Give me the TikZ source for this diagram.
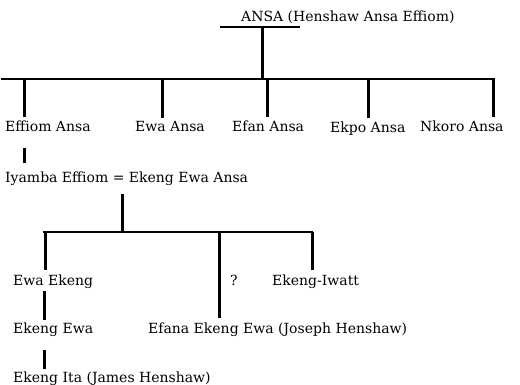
\documentclass[tikz,border=0pt]{standalone}
\usepackage{fontspec}
\setmainfont{DejaVu Serif}
\usetikzlibrary{calc}

\tikzset{
  person/.style={anchor=base west, inner sep=0pt, font=\fontsize{14}{16}\selectfont},
  bar/.style={line width=2.6pt},
  drop/.style={line width=3pt, shorten >=4pt},
}

\begin{document}
\begin{tikzpicture}[x=1pt,y=-1pt]
        \useasboundingbox (0,0) rectangle (520,385);

        % Ansa and his sons
        \node[person] (ansa) at (241,22) {ANSA (Henshaw Ansa Effiom)};
        \coordinate (T1) at (220,27);
        \coordinate (T2) at (300,27);
        \coordinate (T3) at (262,27);
        \coordinate (L1) at (1,79);
        \coordinate (L2) at (495,79);

        \draw[bar] (T1) -- (T2);
        \draw[bar] (L1) -- (L2);
        \draw[drop, shorten >=0pt] (T3) -- (T3 |- L1);

        \node[person] (effiom) at (5,132) {Effiom Ansa};
        \node[person] (ewa) at (135,132) {Ewa Ansa};
        \node[person] (efan) at (232,132) {Efan Ansa};
        \node[person] (ekpo) at (330,133) {Ekpo Ansa};
        \node[person] (nkoro) at (420,132) {Nkoro Ansa};

        \foreach \x/\n in {24/effiom, 162/ewa, 267/efan, 368/ekpo, 493/nkoro}{
            \coordinate (d\n) at (\x,79);
            \draw[drop] (d\n) -- (d\n |- \n.north);
        }

        % Iyamba Effiom and his children
        \node[person] (iyamba) at (5,183) {Iyamba Effiom = Ekeng Ewa Ansa};
        \coordinate (K1) at (24,0);
        \draw[drop, shorten <=16pt, shorten >=9pt] (effiom.south -| K1) -- (K1 |- iyamba.north);

        \coordinate (M) at (122,194);
        \coordinate (C1) at (43,232);
        \coordinate (C2) at (313,232);
        \draw[drop, shorten >=0pt] (M) -- (M |- C1);
        \draw[bar] (C1) -- (C2);

        \node[person] (ewaekeng) at (13,285) {Ewa Ekeng};
        \node[person] (query) at (230,285) {?};
        \node[person] (iwatt) at (272,285) {Ekeng-Iwatt};
        \node[person] (efana) at (148,333) {Efana Ekeng Ewa (Joseph Henshaw)};

        \foreach \x/\n in {45/ewaekeng, 219/efana, 312/iwatt}{
            \coordinate (c\n) at (\x,232);
            \draw[drop] (c\n) -- (c\n |- \n.north);
        }

        % line of Ewa Ekeng
        \node[person] (ekengewa) at (13,333) {Ekeng Ewa};
        \node[person] (ekengita) at (13,382) {Ekeng Ita (James Henshaw)};
        \coordinate (K2) at (44,0);
        \draw[drop, shorten <=3pt, shorten >=2pt] (ewaekeng.south -| K2) -- (K2 |- ekengewa.north);
        \draw[drop, shorten <=14pt, shorten >=2pt] (ekengewa.south -| K2) -- (K2 |- ekengita.north);
\end{tikzpicture}
\end{document}
